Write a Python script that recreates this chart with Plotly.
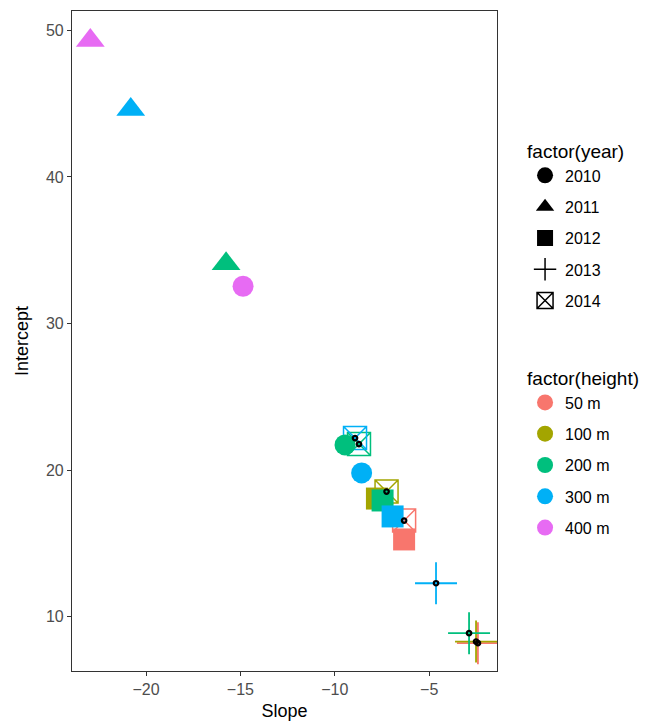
import plotly.graph_objects as go

# ---- data ----
years = [2010, 2011, 2012, 2013, 2014]
heights = ["50 m", "100 m", "200 m", "300 m", "400 m"]
height_colors = ["#F8766D", "#A3A500", "#00BF7D", "#00B0F6", "#E76BF3"]

# point table (drawing order: 2014, 2013, 2012, 2011, 2010)
pt_year = [2014, 2014, 2014, 2014,
           2013, 2013, 2013, 2013,
           2012, 2012, 2012, 2012,
           2011, 2011, 2011,
           2010, 2010, 2010]
pt_height = ["50 m", "100 m", "200 m", "300 m",
             "50 m", "100 m", "200 m", "300 m",
             "100 m", "200 m", "300 m", "50 m",
             "200 m", "300 m", "400 m",
             "200 m", "300 m", "400 m"]
slope = [-6.33, -7.26, -8.72, -8.93,
         -2.42, -2.52, -2.89, -4.64,
         -7.77, -7.47, -6.94, -6.33,
         -15.76, -20.81, -22.95,
         -9.46, -8.58, -14.86]
intercept = [16.55, 18.53, 21.77, 22.18,
             8.18, 8.29, 8.86, 12.27,
             18.05, 17.92, 16.83, 15.26,
             34.07, 44.60, 49.32,
             21.71, 19.80, 32.54]

x_ticks = [-20, -15, -10, -5]
y_ticks = [10, 20, 30, 40, 50]

# ---- styles ----
year_symbol = {2010: "circle", 2011: "triangle-up", 2012: "square",
               2013: "cross-thin-open", 2014: "square-x-open"}
year_size = {2010: 21, 2011: 25, 2012: 22, 2013: 30, 2014: 23}
year_lw = {2010: 0, 2011: 0, 2012: 0, 2013: 1.8, 2014: 1.5}
cmap = dict(zip(heights, height_colors))

fig = go.Figure()

draw_years = [2014, 2013, 2012, 2011, 2010]
for yr in draw_years:
    idx = [i for i, y in enumerate(pt_year) if y == yr]
    cols = [cmap[pt_height[i]] for i in idx]
    fig.add_trace(go.Scatter(
        x=[slope[i] for i in idx], y=[intercept[i] for i in idx],
        mode="markers", showlegend=False, hoverinfo="skip",
        marker=dict(symbol=year_symbol[yr], size=year_size[yr], color=cols,
                    line=dict(width=year_lw[yr], color=cols)),
    ))

# small black centre dots on 2013/2014 points
idx = [i for i, y in enumerate(pt_year) if y in (2013, 2014)]
fig.add_trace(go.Scatter(
    x=[slope[i] for i in idx], y=[intercept[i] for i in idx],
    mode="markers", showlegend=False, hoverinfo="skip",
    marker=dict(symbol="circle-open", size=4.5, color="black",
                line=dict(width=2.2, color="black")),
))

# legend entries: year (shape)
for yr in years:
    fig.add_trace(go.Scatter(
        x=[None], y=[None], mode="markers", name=str(yr),
        legend="legend", legendgroup="y%d" % yr,
        marker=dict(symbol=year_symbol[yr], size=20, color="black",
                    line=dict(width=1.5 if year_lw[yr] else 0, color="black")),
    ))
# legend entries: height (colour)
for h, c in zip(heights, height_colors):
    fig.add_trace(go.Scatter(
        x=[None], y=[None], mode="markers", name=h,
        legend="legend2", legendgroup="h" + h,
        marker=dict(symbol="circle", size=20, color=c),
    ))

axis_common = dict(showgrid=False, zeroline=False, showline=True, mirror=True,
                   linecolor="#333333", linewidth=1.2, ticks="outside",
                   ticklen=4, tickcolor="#333333", tickwidth=1.1, automargin=False,
                   tickfont=dict(family="Liberation Sans, Arial", size=16, color="#4D4D4D"))

fig.update_layout(
    width=652, height=725,
    margin=dict(l=72, r=155, t=11, b=54),
    paper_bgcolor="white", plot_bgcolor="white",
    font=dict(family="Liberation Sans, Arial", color="black"),
    xaxis=dict(range=[-23.92, -1.41], tickvals=x_ticks,
               title=dict(text="Slope", font=dict(size=18), standoff=7),
               **axis_common),
    yaxis=dict(range=[6.28, 51.33], tickvals=y_ticks,
               title=dict(text="Intercept", font=dict(size=18), standoff=12),
               **axis_common),
    legend=dict(x=1.066, y=0.814, xanchor="left", yanchor="top",
                title=dict(text="factor(year)", font=dict(size=19)),
                font=dict(size=16), tracegroupgap=7.5, bgcolor="rgba(0,0,0,0)"),
    legend2=dict(x=1.066, y=0.470, xanchor="left", yanchor="top",
                 title=dict(text="factor(height)", font=dict(size=19)),
                 font=dict(size=16), tracegroupgap=7.5, bgcolor="rgba(0,0,0,0)"),
)

fig.write_html("out.html")
